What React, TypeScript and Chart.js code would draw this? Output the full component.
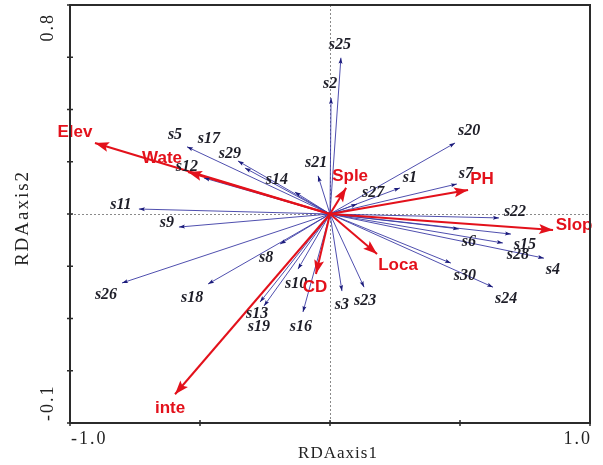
import React, { useEffect, useRef } from "react";
import { Chart, registerables } from "chart.js";

Chart.register(...registerables);

// ---- data ----
const siteNames = ["s1","s2","s3","s4","s5","s6","s7","s8","s9","s10","s11","s12","s13","s14","s15","s16","s17","s18","s19","s20","s21","s22","s23","s24","s25","s26","s27","s28","s29","s30"];
const siteX = [0.269, 0.004, 0.046, 0.823, -0.550, 0.496, 0.488, -0.192, -0.581, -0.123, -0.735, -0.485, -0.269, -0.135, 0.696, -0.104, -0.354, -0.469, -0.254, 0.481, -0.046, 0.650, 0.131, 0.627, 0.042, -0.800, 0.104, 0.665, -0.327, 0.465];
const siteY = [0.100, 0.444, -0.295, -0.169, 0.257, -0.057, 0.115, -0.115, -0.050, -0.211, 0.019, 0.138, -0.337, 0.084, -0.077, -0.375, 0.203, -0.268, -0.352, 0.272, 0.146, -0.015, -0.280, -0.280, 0.598, -0.264, 0.038, -0.111, 0.176, -0.188];

const envNames = ["Elev", "Wate", "Sple", "PH", "Slop", "Loca", "CD", "inte"];
const envX = [-0.904, -0.546, 0.062, 0.531, 0.858, 0.181, -0.054, -0.596];
const envY = [0.272, 0.161, 0.100, 0.092, -0.061, -0.153, -0.230, -0.690];

const xTickLabels = ["-1.0", "1.0"];
const yTickLabels = ["-0.1", "0.8"];
const xTitle = "RDAaxis1";
const yTitle = "RDAaxis2";

// ---- label placement (pixel offsets from arrow tips) ----
const siteLabelDx = [10, -1, 0, 9, -12, 10, 9, -14, -12, -2, -18, -17, -3, -18, 14, -2, -29, -16, -5, 14, -2, 16, 1, 13, -1, -16, 16, 15, -15, 14];
const siteLabelDy = [-10, -14, 14, 12, -12, 13, -10, 14, -4, 15, -4, -11, 12, -12, 11, 15, -22, 14, 21, -12, -13, -6, 14, 12, -13, 12, -11, 12, -14, 13];
const envLabelDx = [-20, -26, 4, 14, 21, 21, -1, -5];
const envLabelDy = [-11, -14, -12, -11, -5, 11, 13, 14];

const RED = "#e3111b";
const BLUE_LINE = "rgba(60,60,165,0.9)";
const BLUE_HEAD = "#1b1b7a";

function arrowHead(ctx: CanvasRenderingContext2D, x0: number, y0: number, x1: number, y1: number, len: number, w: number, color: string) {
  const a = Math.atan2(y1 - y0, x1 - x0);
  ctx.save();
  ctx.translate(x1, y1);
  ctx.rotate(a);
  ctx.fillStyle = color;
  ctx.beginPath();
  ctx.moveTo(0, 0);
  ctx.lineTo(-len, w / 2);
  ctx.lineTo(-len * 0.8, 0);
  ctx.lineTo(-len, -w / 2);
  ctx.closePath();
  ctx.fill();
  ctx.restore();
}

const rdaPlugin = {
  id: "rdaPlugin",
  beforeDatasetsDraw(chart: any) {
    const { ctx, chartArea, scales } = chart;
    const x0 = scales.x.getPixelForValue(0);
    const y0 = scales.y.getPixelForValue(0);
    ctx.save();
    ctx.strokeStyle = "#8a8a8a";
    ctx.lineWidth = 1;
    ctx.setLineDash([2, 2]);
    ctx.beginPath();
    ctx.moveTo(Math.round(x0) + 0.5, chartArea.top);
    ctx.lineTo(Math.round(x0) + 0.5, chartArea.bottom);
    ctx.moveTo(chartArea.left, Math.round(y0) + 0.5);
    ctx.lineTo(chartArea.right, Math.round(y0) + 0.5);
    ctx.stroke();
    ctx.restore();
  },
  afterDatasetsDraw(chart: any) {
    const { ctx, scales } = chart;
    const sx = scales.x, sy = scales.y;
    const ox = sx.getPixelForValue(0);
    const oy = sy.getPixelForValue(0);
    ctx.save();
    for (let i = 0; i < siteNames.length; i++) {
      const px = sx.getPixelForValue(siteX[i]);
      const py = sy.getPixelForValue(siteY[i]);
      arrowHead(ctx, ox, oy, px, py, 6, 4, BLUE_HEAD);
    }
    for (let i = 0; i < envNames.length; i++) {
      const px = sx.getPixelForValue(envX[i]);
      const py = sy.getPixelForValue(envY[i]);
      arrowHead(ctx, ox, oy, px, py, 14, 10, RED);
    }
    ctx.textAlign = "center";
    ctx.textBaseline = "middle";
    ctx.font = "italic bold 16px 'Liberation Serif', serif";
    ctx.fillStyle = "#1e1e28";
    for (let i = 0; i < siteNames.length; i++) {
      const px = sx.getPixelForValue(siteX[i]);
      const py = sy.getPixelForValue(siteY[i]);
      ctx.fillText(siteNames[i], px + siteLabelDx[i], py + siteLabelDy[i]);
    }
    ctx.font = "bold 17px 'Liberation Sans', Arial, sans-serif";
    ctx.fillStyle = RED;
    for (let i = 0; i < envNames.length; i++) {
      const px = sx.getPixelForValue(envX[i]);
      const py = sy.getPixelForValue(envY[i]);
      ctx.fillText(envNames[i], px + envLabelDx[i], py + envLabelDy[i]);
    }
    ctx.restore();
  },
  afterDraw(chart: any) {
    const { ctx, chartArea, scales } = chart;
    const { left, right, top, bottom } = chartArea;
    ctx.save();
    ctx.strokeStyle = "#2b2b2b";
    ctx.lineWidth = 2;
    ctx.strokeRect(left, top, right - left, bottom - top);
    ctx.lineWidth = 1.5;
    ctx.beginPath();
    for (let v = -0.8; v <= 0.8001; v += 0.2) {
      const y = scales.y.getPixelForValue(v);
      ctx.moveTo(left - 3, y);
      ctx.lineTo(left + 3, y);
    }
    for (let v = -1; v <= 1.0001; v += 0.5) {
      const x = scales.x.getPixelForValue(v);
      ctx.moveTo(x, bottom - 3);
      ctx.lineTo(x, bottom + 3);
    }
    ctx.stroke();
    ctx.fillStyle = "#222";
    ctx.font = "18px 'Liberation Serif', serif";
    (ctx as any).letterSpacing = "2px";
    ctx.textBaseline = "middle";
    ctx.textAlign = "left";
    ctx.fillText(xTickLabels[0], left + 1, bottom + 16);
    ctx.textAlign = "right";
    ctx.fillText(xTickLabels[1], right + 2, bottom + 16);
    ctx.save();
    ctx.translate(left - 22, bottom - 2);
    ctx.rotate(-Math.PI / 2);
    ctx.textAlign = "left";
    ctx.fillText(yTickLabels[0], 0, 0);
    ctx.restore();
    ctx.save();
    ctx.translate(left - 22, top + 8);
    ctx.rotate(-Math.PI / 2);
    ctx.textAlign = "right";
    ctx.fillText(yTickLabels[1], 0, 0);
    ctx.restore();
    ctx.font = "17px 'Liberation Serif', serif";
    (ctx as any).letterSpacing = "1px";
    ctx.textAlign = "center";
    ctx.fillText(xTitle, (left + right) / 2 + 8, bottom + 31);
    ctx.save();
    ctx.translate(23, (top + bottom) / 2 + 4);
    ctx.rotate(-Math.PI / 2);
    ctx.font = "19px 'Liberation Serif', serif";
    (ctx as any).letterSpacing = "2px";
    ctx.fillText(yTitle, 0, 0);
    ctx.restore();
    ctx.restore();
  },
};

export default function App() {
  const ref = useRef<HTMLCanvasElement | null>(null);
  useEffect(() => {
    document.body.style.margin = "0";
    const canvas = ref.current;
    if (!canvas) return;
    const envSets = envNames.map((n, i) => ({
      label: n,
      data: [{ x: 0, y: 0 }, { x: envX[i], y: envY[i] }],
      showLine: true,
      borderColor: RED,
      borderWidth: 2,
      pointRadius: 0,
      order: 0,
    }));
    const siteSets = siteNames.map((n, i) => ({
      label: n,
      data: [{ x: 0, y: 0 }, { x: siteX[i], y: siteY[i] }],
      showLine: true,
      borderColor: BLUE_LINE,
      borderWidth: 1,
      pointRadius: 0,
      order: 1,
    }));
    const chart = new Chart(canvas, {
      type: "scatter",
      data: { datasets: [...envSets, ...siteSets] as any },
      options: {
        animation: false,
        responsive: false,
        devicePixelRatio: 1,
        layout: { padding: { left: 70, right: 13, top: 5, bottom: 42 } },
        plugins: { legend: { display: false }, tooltip: { enabled: false } },
        scales: {
          x: { type: "linear", min: -1, max: 1, display: false },
          y: { type: "linear", min: -0.8, max: 0.8, display: false },
        },
      },
      plugins: [rdaPlugin],
    });
    return () => chart.destroy();
  }, []);
  return (
    <div style={{ position: "absolute", left: 0, top: 0, width: 603, height: 465, background: "#fff" }}>
      <canvas ref={ref} width={603} height={465} />
    </div>
  );
}
